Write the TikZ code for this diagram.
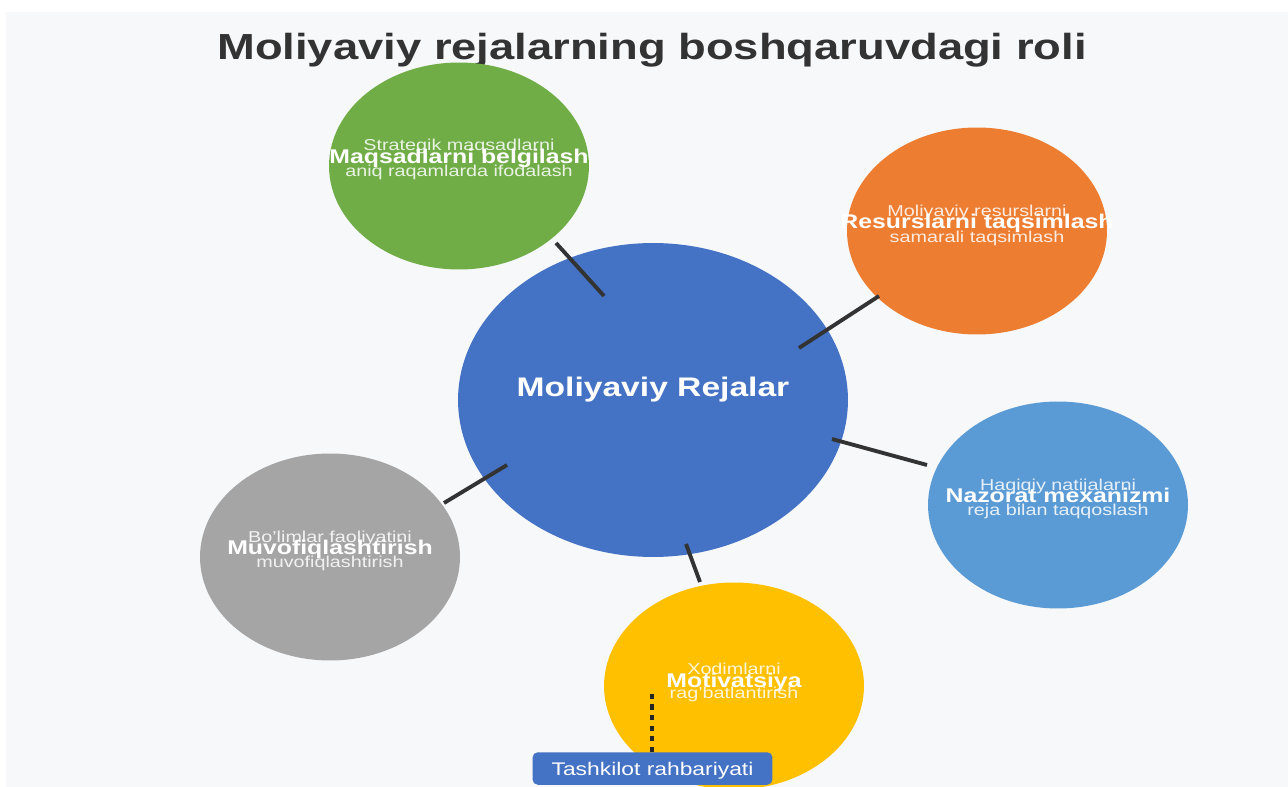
\documentclass[tikz,border=0pt]{standalone}
\usepackage{graphicx}
\usepackage{fontspec}
\setmainfont{Liberation Sans}
\usetikzlibrary{shapes.geometric,calc}
\definecolor{bgc}{HTML}{F6F8FA}
\definecolor{titc}{HTML}{333333}
\definecolor{cgreen}{HTML}{70AD47}
\definecolor{corange}{HTML}{ED7D31}
\definecolor{cblue}{HTML}{4472C4}
\definecolor{clblue}{HTML}{5B9BD5}
\definecolor{cgray}{HTML}{A5A5A5}
\definecolor{cyellow}{HTML}{FFC000}
\definecolor{linec}{HTML}{333333}
\newcommand{\hstretch}[1]{\scalebox{1.25}[1]{#1}}
\tikzset{
  bubble/.style={ellipse, draw=none, inner sep=0pt, minimum width=5.2cm, minimum height=4.14cm},
  mainbubble/.style={ellipse, draw=none, inner sep=0pt, minimum width=7.8cm, minimum height=6.28cm, fill=cblue},
  subtxt/.style={anchor=base, text=white, text opacity=0.85, font=\fontsize{9}{10}\selectfont, inner sep=0pt},
  headtxt/.style={anchor=base, text=white, font=\bfseries\fontsize{11.3}{12}\selectfont, inner sep=0pt},
  link/.style={draw=linec, line width=2.2pt},
  dotlink/.style={draw=black!85, line width=2pt, dash pattern=on 3pt off 3pt},
  labelbox/.style={fill=cblue, rounded corners=3pt, minimum width=4.8cm, minimum height=0.65cm, inner sep=0pt},
  labeltxt/.style={anchor=base, text=white, font=\fontsize{10.4}{12}\selectfont, inner sep=0pt}
}
\begin{document}
\begin{tikzpicture}[x=0.02cm,y=-0.02cm]
\useasboundingbox (0,0) rectangle (1288,787);
\fill[white] (0,0) rectangle (1288,787);
\fill[bgc] (6,12) rectangle (1288,787);

\node[anchor=base, text=titc, font=\bfseries\fontsize{20.65}{24}\selectfont, inner sep=0pt] (title) at (652,60) {\hstretch{Moliyaviy rejalarning boshqaruvdagi roli}};

% bubbles
\node[mainbubble] (m) at (653,400) {};
\node[bubble, fill=cgreen] (g) at (459,166) {};
\node[bubble, fill=corange] (o) at (977,231) {};
\node[bubble, fill=clblue] (b) at (1058,505) {};
\node[bubble, fill=cgray] (k) at (330,557) {};
\node[bubble, fill=cyellow] (y) at (734,686) {};

% connector ends
\coordinate (g1) at (556,243); \coordinate (g2) at (604,296);
\coordinate (o1) at (879,296); \coordinate (o2) at (799,348);
\coordinate (b1) at (927,465); \coordinate (b2) at (832,439);
\coordinate (k1) at (444,503); \coordinate (k2) at (507,465);
\coordinate (y1) at (700,582); \coordinate (y2) at (686,544);
\draw[link] (g1) -- (g2);
\draw[link] (o1) -- (o2);
\draw[link] (b1) -- (b2);
\draw[link] (k1) -- (k2);
\draw[link] (y1) -- (y2);

\node[anchor=base, text=white, font=\bfseries\fontsize{15.3}{17}\selectfont, inner sep=0pt] (mt) at (653,396) {\hstretch{Moliyaviy Rejalar}};

% green
\node[subtxt] (gt1) at (459,151) {\hstretch{Strategik maqsadlarni}};
\node[subtxt] (gt3) at (459,177) {\hstretch{aniq raqamlarda ifodalash}};
\node[headtxt] (gt2) at (459,164) {\hstretch{Maqsadlarni belgilash}};
% orange
\node[subtxt] (ot1) at (977,217) {\hstretch{Moliyaviy resurslarni}};
\node[subtxt] (ot3) at (977,243) {\hstretch{samarali taqsimlash}};
\node[headtxt] (ot2) at (977,229) {\hstretch{Resurslarni taqsimlash}};
% light blue
\node[subtxt] (bt1) at (1058,490) {\hstretch{Haqiqiy natijalarni}};
\node[subtxt] (bt3) at (1058,515) {\hstretch{reja bilan taqqoslash}};
\node[headtxt] (bt2) at (1058,502) {\hstretch{Nazorat mexanizmi}};
% gray
\node[subtxt] (kt1) at (330,542) {\hstretch{Bo'limlar faoliyatini}};
\node[subtxt] (kt3) at (330,567) {\hstretch{muvofiqlashtirish}};
\node[headtxt] (kt2) at (330,554) {\hstretch{Muvofiqlashtirish}};
% yellow
\node[subtxt] (yt1) at (734,674) {\hstretch{Xodimlarni}};
\node[subtxt] (yt3) at (734,698) {\hstretch{rag'batlantirish}};
\node[headtxt] (yt2) at (734,687) {\hstretch{Motivatsiya}};

% label
\node[labelbox] (lab) at (652.5,768.5) {};
\node[labeltxt] (labt) at (652.5,775) {\hstretch{Tashkilot rahbariyati}};
\coordinate (dtop) at (652,692);
\draw[dotlink] (lab.north -| dtop) -- (dtop);
\end{tikzpicture}
\end{document}
